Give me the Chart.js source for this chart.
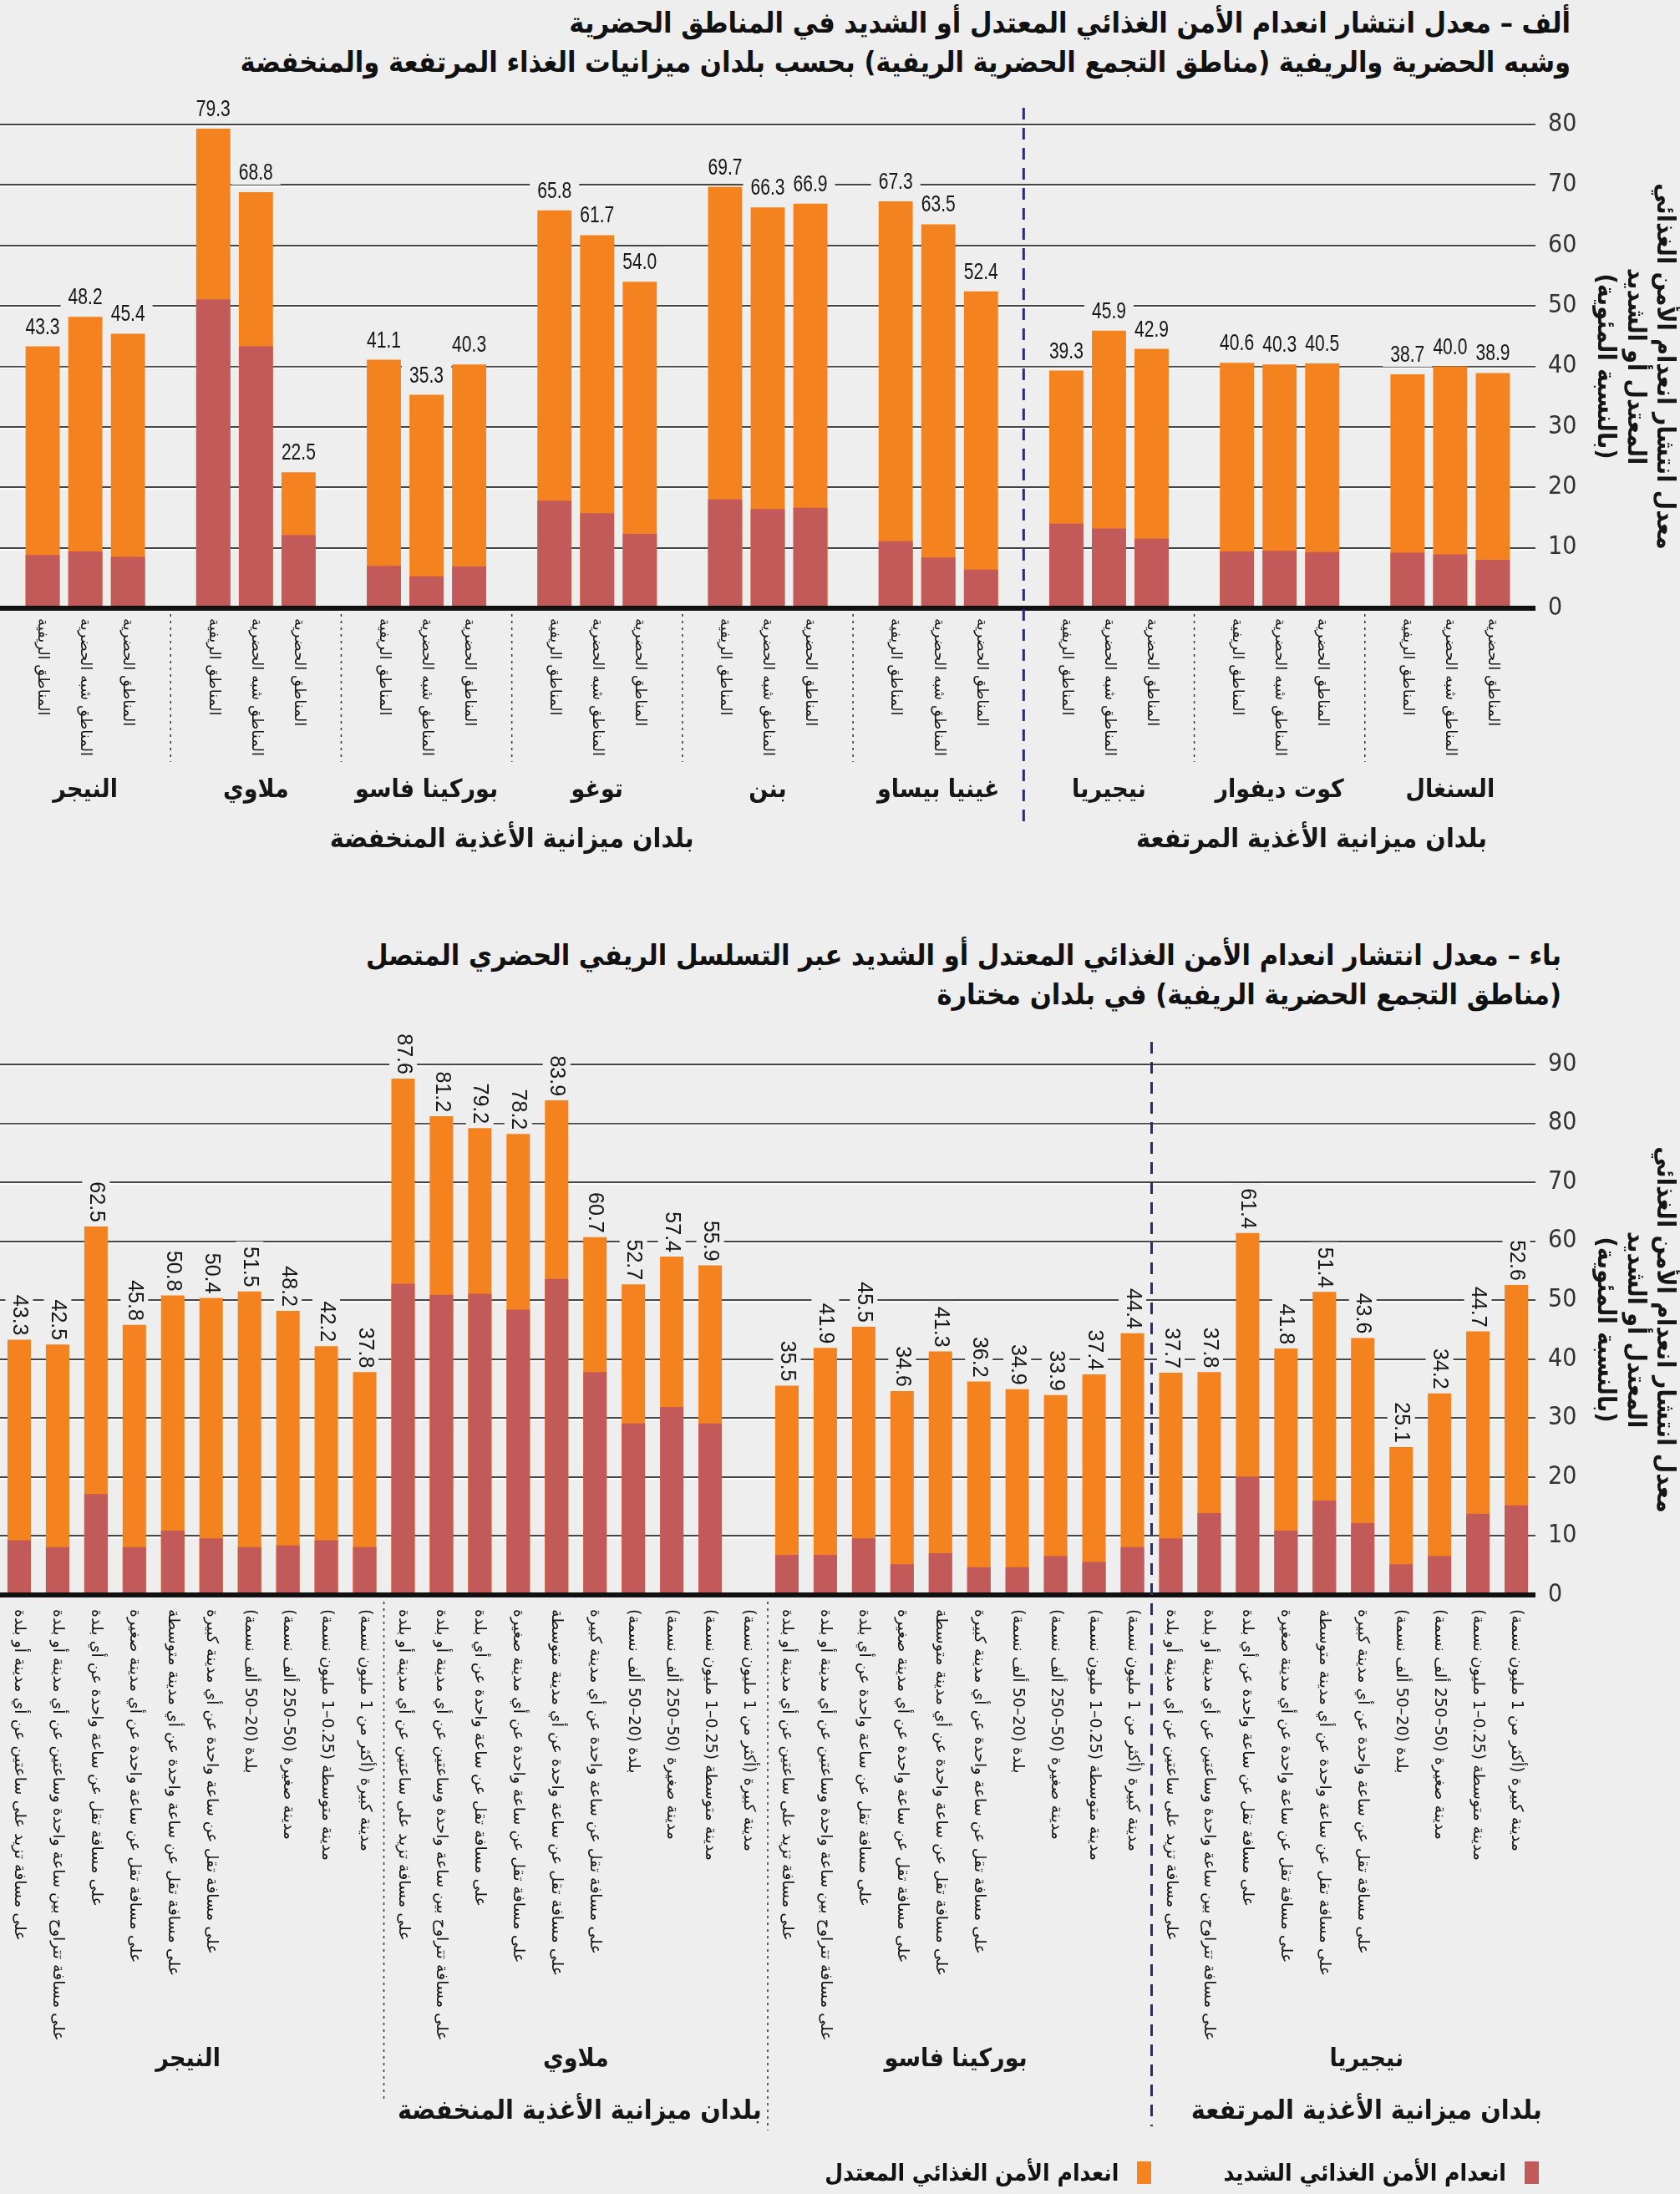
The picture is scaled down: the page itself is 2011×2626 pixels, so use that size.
<!DOCTYPE html>
<html lang="ar">
<head>
<meta charset="utf-8">
<script src="https://cdn.jsdelivr.net/npm/chart.js@4.4.1/dist/chart.umd.min.js"></script>
<style>
  html, body { margin: 0; padding: 0; background: #eeeeee; }
  body { width: 2011px; height: 2626px; position: relative; overflow: hidden; }
  .title {
    position: absolute; direction: rtl; text-align: right; white-space: nowrap;
    font-family: "DejaVu Sans Condensed", "DejaVu Sans", sans-serif;
    font-weight: bold; font-size: 34px; line-height: 47px; color: #111;
  }
  canvas { position: absolute; left: 0; }
  .legend {
    position: absolute; top: 2584px; right: 169px; direction: rtl; display: flex; gap: 26px;
    font-family: "DejaVu Sans Condensed", "DejaVu Sans", sans-serif;
    font-weight: bold; font-size: 28px; color: #111;
  }
  .legend span { display: flex; align-items: center; gap: 22px; margin-left: 60px; }
  .legend i { display: inline-block; width: 17px; height: 27px; }
</style>
</head>
<body>
<div class="title" style="top:4px; right:131px;">ألف – معدل انتشار انعدام الأمن الغذائي المعتدل أو الشديد في المناطق الحضرية<br>وشبه الحضرية والريفية (مناطق التجمع الحضرية الريفية) بحسب بلدان ميزانيات الغذاء المرتفعة والمنخفضة</div>
<div class="title" style="top:1120px; right:142px;">باء –  معدل انتشار انعدام الأمن الغذائي المعتدل أو الشديد عبر التسلسل الريفي الحضري المتصل<br>(مناطق التجمع الحضرية الريفية) في بلدان مختارة</div>

<canvas id="chart-top" dir="rtl" style="top:0px;"></canvas>
<canvas id="chart-bottom" dir="rtl" style="top:1220px;"></canvas>

<div class="legend">
  <span><i style="background:#c25a59"></i>انعدام الأمن الغذائي الشديد</span>
  <span><i style="background:#f4831f"></i>انعدام الأمن الغذائي المعتدل</span>
</div>

<script>
// ---- الرسم ألف: حسب البلد ونوع المنطقة ----
const topCountries = ["النيجر", "ملاوي", "بوركينا فاسو", "توغو", "بنن", "غينيا بيساو", "نيجيريا", "كوت ديفوار", "السنغال"];
const topAreas = ["المناطق الريفية", "المناطق شبه الحضرية", "المناطق الحضرية"];
// معدل الانتشار المعتدل أو الشديد (المجموع)
const topTotal = [
  43.3, 48.2, 45.4,
  79.3, 68.8, 22.5,
  41.1, 35.3, 40.3,
  65.8, 61.7, 54.0,
  69.7, 66.3, 66.9,
  67.3, 63.5, 52.4,
  39.3, 45.9, 42.9,
  40.6, 40.3, 40.5,
  38.7, 40.0, 38.9
];
// الشديد فقط
const topSevere = [
  8.8, 9.4, 8.5,
  51.1, 43.3, 12.1,
  7.0, 5.3, 6.9,
  17.8, 15.7, 12.3,
  18.0, 16.4, 16.6,
  11.1, 8.4, 6.4,
  14.0, 13.2, 11.5,
  9.4, 9.5, 9.3,
  9.2, 8.9, 8.0
];
const topYTicks = [0, 10, 20, 30, 40, 50, 60, 70, 80];

// ---- الرسم باء: عبر التسلسل الريفي الحضري ----
const bottomCountries = ["النيجر", "ملاوي", "بوركينا فاسو", "نيجيريا"];
const bottomPlaces = [
  "على مسافة تزيد على ساعتين عن أي مدينة أو بلدة",
  "على مسافة تتراوح بين ساعة واحدة وساعتين عن أي مدينة أو بلدة",
  "على مسافة تقل عن ساعة واحدة عن أي بلدة",
  "على مسافة تقل عن ساعة واحدة عن أي مدينة صغيرة",
  "على مسافة تقل عن ساعة واحدة عن أي مدينة متوسطة",
  "على مسافة تقل عن ساعة واحدة عن أي مدينة كبيرة",
  "بلدة (20–50 ألف نسمة)",
  "مدينة صغيرة (50–250 ألف نسمة)",
  "مدينة متوسطة (0.25–1 مليون نسمة)",
  "مدينة كبيرة (أكثر من 1 مليون نسمة)"
];
const bottomTotal = [
  43.3, 42.5, 62.5, 45.8, 50.8, 50.4, 51.5, 48.2, 42.2, 37.8,
  87.6, 81.2, 79.2, 78.2, 83.9, 60.7, 52.7, 57.4, 55.9, null,
  35.5, 41.9, 45.5, 34.6, 41.3, 36.2, 34.9, 33.9, 37.4, 44.4,
  37.7, 37.8, 61.4, 41.8, 51.4, 43.6, 25.1, 34.2, 44.7, 52.6
];
const bottomSevere = [
  9.3, 8.1, 17.1, 8.1, 10.9, 9.6, 8.1, 8.4, 9.3, 8.1,
  52.8, 50.9, 51.1, 48.4, 53.6, 37.8, 29.1, 31.9, 29.1, null,
  6.8, 6.8, 9.6, 5.2, 7.1, 4.7, 4.7, 6.6, 5.6, 8.1,
  9.6, 13.9, 20.1, 10.9, 16.0, 12.2, 5.2, 6.6, 13.8, 15.2
];
const bottomYTicks = [0, 10, 20, 30, 40, 50, 60, 70, 80, 90];

const budgetLabels = ["بلدان ميزانية الأغذية المنخفضة", "بلدان ميزانية الأغذية المرتفعة"];
const yTitle = ["معدل انتشار انعدام الأمن الغذائي", "المعتدل أو الشديد", "(بالنسبة المئوية)"];

const COLORS = {
  moderate: "#f4831f",
  severe: "#c25a59",
  bg: "#eeeeee",
  grid: "#474747",
  text: "#161616",
  divider: "#2b2a78",
};
const FONT_AR_BOLD = "'DejaVu Sans Condensed', 'DejaVu Sans', sans-serif";
const FONT_AR = "'DejaVu Sans', sans-serif";
const FONT_NUM = "'Liberation Sans Narrow', 'DejaVu Sans Condensed', sans-serif";

// الرسم ألف: 9 مجموعات، كل مجموعة 3 أعمدة + فراغ
const topLabels = [""];
const topTotalData = [null];
const topSevereData = [null];
topCountries.forEach((c, g) => {
  topAreas.forEach((a, k) => {
    topLabels.push(a);
    topTotalData.push(topTotal[g * 3 + k]);
    topSevereData.push(topSevere[g * 3 + k]);
  });
  topLabels.push("");
  topTotalData.push(null);
  topSevereData.push(null);
});

const bottomLabels = [];
bottomCountries.forEach(() => bottomPlaces.forEach((p) => bottomLabels.push(p)));

// موضع قيمة المجموع فوق كل عمود
function eachValue(chart, opts, fn) {
  const ctx = chart.ctx;
  const meta = chart.getDatasetMeta(0);
  ctx.font = opts.valueFont;
  const h = parseInt(opts.valueFont.match(/(\d+)px/)[1], 10);
  meta.data.forEach((bar, i) => {
    const v = chart.data.datasets[0].data[i];
    if (v == null) return;
    const text = v.toFixed(1);
    const w = ctx.measureText(text).width * opts.valueScaleX;
    fn(text, bar, w, h);
  });
}

// خط أبيض خفيف تحت كل خط شبكة + خلفية القيم لقطع الشبكة
const gridShadePlugin = {
  id: "gridShade",
  beforeDatasetsDraw(chart) {
    const { ctx, chartArea } = chart;
    const y = chart.scales.y;
    const opts = chart.options.plugins.annot;
    ctx.save();
    ctx.strokeStyle = "#ffffff";
    ctx.lineWidth = 1.5;
    y.ticks.forEach((t) => {
      if (t.value === 0) return;
      const py = y.getPixelForValue(t.value) + 2;
      ctx.beginPath();
      ctx.moveTo(chartArea.left, py);
      ctx.lineTo(chartArea.right, py);
      ctx.stroke();
    });
    ctx.fillStyle = COLORS.bg;
    eachValue(chart, opts, (text, bar, w, h) => {
      if (opts.rotateValues) {
        ctx.fillRect(bar.x - h / 2 - 4, bar.y - 5 - w - 6, h + 8, w + 10);
      } else {
        ctx.fillRect(bar.x - w / 2 - 9, bar.y - 15 - h, w + 18, h + 6);
      }
    });
    ctx.restore();
  },
};

// التسميات والفواصل
const annotPlugin = {
  id: "annot",
  afterDatasetsDraw(chart, args, opts) {
    const { ctx, chartArea } = chart;
    const xs = chart.scales.x;
    ctx.save();
    ctx.direction = "rtl";

    // قيم المجموع فوق الأعمدة
    ctx.fillStyle = COLORS.text;
    ctx.textBaseline = opts.rotateValues ? "middle" : "alphabetic";
    ctx.textAlign = opts.rotateValues ? "right" : "center";
    eachValue(chart, opts, (text, bar) => {
      ctx.save();
      if (opts.rotateValues) {
        ctx.translate(bar.x, bar.y - 5);
        ctx.rotate(Math.PI / 2);
      } else {
        ctx.translate(bar.x, bar.y - 15);
        ctx.scale(opts.valueScaleX, 1);
      }
      ctx.fillText(text, 0, 0);
      ctx.restore();
    });

    // تسميات الفئات (مدورة باتجاه عقارب الساعة)
    ctx.font = opts.catFont;
    ctx.fillStyle = COLORS.text;
    ctx.textAlign = "left";
    ctx.textBaseline = "middle";
    chart.data.labels.forEach((lab, i) => {
      if (!lab) return;
      const px = xs.getPixelForValue(i);
      ctx.save();
      ctx.translate(px, chartArea.bottom + opts.catTop);
      ctx.rotate(Math.PI / 2);
      ctx.fillText(lab, 0, 0);
      ctx.restore();
    });

    // فواصل منقطة بين البلدان
    ctx.strokeStyle = "#333";
    ctx.lineWidth = 1.5;
    ctx.setLineDash([3, 5]);
    opts.separators.forEach((s) => {
      const px = xs.getPixelForValue(s.at);
      ctx.beginPath();
      ctx.moveTo(px, s.y0);
      ctx.lineTo(px, s.y1);
      ctx.stroke();
    });

    // الخط الفاصل بين مجموعتي الميزانية
    ctx.strokeStyle = COLORS.divider;
    ctx.lineWidth = 3;
    ctx.setLineDash([14, 10]);
    const dx = xs.getPixelForValue(opts.divider.at);
    ctx.beginPath();
    ctx.moveTo(dx, opts.divider.y0);
    ctx.lineTo(dx, opts.divider.y1);
    ctx.stroke();
    ctx.setLineDash([]);

    // أسماء البلدان
    ctx.font = opts.countryFont;
    ctx.fillStyle = COLORS.text;
    ctx.textAlign = "center";
    ctx.textBaseline = "middle";
    opts.countries.forEach((c, i) => {
      ctx.fillText(c, xs.getPixelForValue(opts.countryAt[i]), opts.countryY);
    });

    // مجموعات الميزانية
    ctx.font = opts.budgetFont;
    budgetLabels.forEach((b, i) => {
      ctx.fillText(b, xs.getPixelForValue(opts.budgetAt[i]), opts.budgetY);
    });
    ctx.restore();
  },
};

function yScale(ticks, max, width) {
  return {
    position: "right",
    min: 0,
    max: max,
    afterBuildTicks(s) {
      s.ticks = ticks.map((v) => ({ value: v }));
    },
    afterFit(s) {
      s.width = width;
    },
    border: { display: false },
    grid: {
      drawTicks: false,
      color: (c) => (c.tick && c.tick.value === 0 ? "#111111" : COLORS.grid),
      lineWidth: (c) => (c.tick && c.tick.value === 0 ? 6 : 2),
    },
    ticks: {
      padding: 15,
      color: "#333",
      font: { family: FONT_NUM, size: 30 },
    },
    title: {
      display: true,
      text: yTitle,
      color: COLORS.text,
      font: { family: FONT_AR_BOLD, size: 30, weight: "bold", lineHeight: 1.17 },
      padding: { top: 2, bottom: 0 },
    },
  };
}

// الرسم ألف
const topCanvas = document.getElementById("chart-top");
topCanvas.width = 2011;
topCanvas.height = 1060;
new Chart(topCanvas.getContext("2d"), {
  type: "bar",
  data: {
    labels: topLabels,
    datasets: [
      {
        label: "المجموع",
        data: topTotalData,
        backgroundColor: COLORS.moderate,
        grouped: false,
        order: 2,
      },
      {
        label: "انعدام الأمن الغذائي الشديد",
        data: topSevereData,
        backgroundColor: COLORS.severe,
        grouped: false,
        order: 1,
      },
    ],
  },
  options: {
    responsive: false,
    animation: false,
    events: [],
    layout: { padding: { top: 149, left: 0, right: 0, bottom: 0 } },
    datasets: { bar: { barPercentage: 0.8, categoryPercentage: 1 } },
    plugins: {
      legend: { display: false },
      tooltip: { enabled: false },
      annot: {
        valueFont: "27px 'Liberation Sans', Arial, sans-serif",
        valueScaleX: 0.78,
        rotateValues: false,
        catFont: "18px " + FONT_AR,
        catTop: 12,
        separators: [4, 8, 12, 16, 20, 28, 32].map((at) => ({ at: at, y0: 735, y1: 912 })),
        divider: { at: 24, y0: 129, y1: 983 },
        countries: topCountries,
        countryAt: topCountries.map((c, g) => g * 4 + 2),
        countryY: 946,
        countryFont: "bold 30px " + FONT_AR_BOLD,
        budgetAt: [12, 30.75],
        budgetY: 1006,
        budgetFont: "bold 32px " + FONT_AR_BOLD,
      },
    },
    scales: {
      x: {
        type: "category",
        offset: false,
        grid: { display: false },
        border: { display: false },
        ticks: { display: false },
        afterFit(s) {
          s.height = 332;
        },
      },
      y: yScale(topYTicks, 80, 173),
    },
  },
  plugins: [gridShadePlugin, annotPlugin],
});

// الرسم باء
const bottomCanvas = document.getElementById("chart-bottom");
bottomCanvas.width = 2011;
bottomCanvas.height = 1406;
new Chart(bottomCanvas.getContext("2d"), {
  type: "bar",
  data: {
    labels: bottomLabels,
    datasets: [
      {
        label: "المجموع",
        data: bottomTotal,
        backgroundColor: COLORS.moderate,
        grouped: false,
        order: 2,
      },
      {
        label: "انعدام الأمن الغذائي الشديد",
        data: bottomSevere,
        backgroundColor: COLORS.severe,
        grouped: false,
        order: 1,
      },
    ],
  },
  options: {
    responsive: false,
    animation: false,
    events: [],
    layout: { padding: { top: 54, left: 0, right: 0, bottom: 0 } },
    datasets: { bar: { barPercentage: 0.61, categoryPercentage: 1 } },
    plugins: {
      legend: { display: false },
      tooltip: { enabled: false },
      annot: {
        valueFont: "25px 'Liberation Sans', Arial, sans-serif",
        valueScaleX: 1,
        rotateValues: true,
        catFont: "19px " + FONT_AR,
        catTop: 17,
        separators: [
          { at: 9.5, y0: 1917 - 1220, y1: 2515 - 1220 },
          { at: 19.5, y0: 1917 - 1220, y1: 2550 - 1220 },
        ],
        divider: { at: 29.5, y0: 1247 - 1220, y1: 2545 - 1220 },
        countries: bottomCountries,
        countryAt: [4.4, 14.5, 24.4, 35.1],
        countryY: 2465 - 1220,
        countryFont: "bold 30px " + FONT_AR_BOLD,
        budgetAt: [14.6, 35.1],
        budgetY: 2528 - 1220,
        budgetFont: "bold 32px " + FONT_AR_BOLD,
      },
    },
    scales: {
      x: {
        type: "category",
        offset: true,
        grid: { display: false },
        border: { display: false },
        ticks: { display: false },
        afterFit(s) {
          s.height = 1406 - 689;
        },
      },
      y: yScale(bottomYTicks, 90, 173),
    },
  },
  plugins: [gridShadePlugin, annotPlugin],
});
</script>
</body>
</html>
